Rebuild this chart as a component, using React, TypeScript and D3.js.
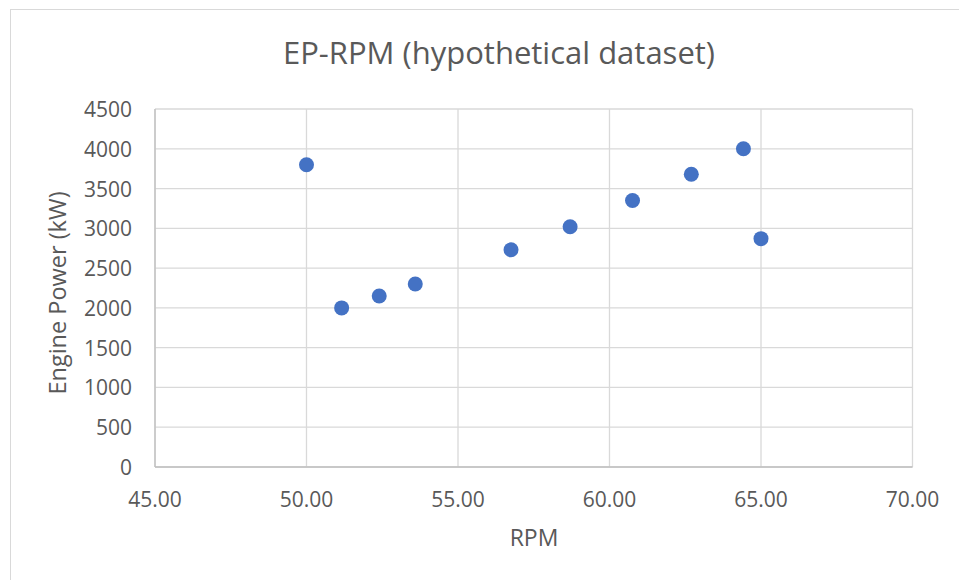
import React from "react";
import * as d3 from "d3";

const rpm = [50.0, 51.16, 52.4, 53.59, 56.75, 58.7, 60.76, 62.7, 64.42, 65.0];
const power = [3800, 2000, 2150, 2300, 2730, 3020, 3350, 3680, 4000, 2870];
const xTicks = [45, 50, 55, 60, 65, 70];
const yTicks = [0, 500, 1000, 1500, 2000, 2500, 3000, 3500, 4000, 4500];

const W = 959;
const H = 580;
const FONT = "'Open Sans', 'Liberation Sans', sans-serif";

export default function App() {
  const left = 155, right = 912.5, top = 109, bottom = 467;
  const x = d3.scaleLinear().domain([45, 70]).range([left, right]);
  const y = d3.scaleLinear().domain([0, 4500]).range([bottom, top]);
  const textColor = "#595959";
  return (
    <svg width={W} height={H} style={{ position: "absolute", left: 0, top: 0, background: "#fff" }}>
      <rect x={0} y={0} width={W} height={H} fill="#fff" />
      <rect x={10.5} y={9.5} width={W + 20} height={H + 20} fill="none" stroke="#d9d9d9" strokeWidth={1} />
      <text x={499} y={64} textAnchor="middle" fontFamily={FONT} fontSize={31} fill={textColor}>
        EP-RPM (hypothetical dataset)
      </text>
      {yTicks.map((t) => (
        <line key={"gy" + t} x1={left} x2={right} y1={y(t)} y2={y(t)} stroke="#d9d9d9" strokeWidth={1.3} />
      ))}
      {xTicks.map((t) => (
        <line key={"gx" + t} x1={x(t)} x2={x(t)} y1={top} y2={bottom} stroke="#d9d9d9" strokeWidth={1.3} />
      ))}
      <line x1={left} x2={left} y1={top} y2={bottom} stroke="#bfbfbf" strokeWidth={1.3} />
      <line x1={left} x2={right} y1={bottom} y2={bottom} stroke="#bfbfbf" strokeWidth={1.3} />
      {yTicks.map((t) => (
        <text key={"ly" + t} x={132} y={y(t)} textAnchor="end" dominantBaseline="central" fontFamily={FONT} fontSize={21} fill={textColor}>
          {t}
        </text>
      ))}
      {xTicks.map((t) => (
        <text key={"lx" + t} x={x(t)} y={499} textAnchor="middle" dominantBaseline="central" fontFamily={FONT} fontSize={21} fill={textColor}>
          {d3.format(".2f")(t)}
        </text>
      ))}
      <text x={534} y={546} textAnchor="middle" fontFamily={FONT} fontSize={23} fill={textColor}>
        RPM
      </text>
      <text
        transform={`translate(66,293) rotate(-90)`}
        textAnchor="middle"
        fontFamily={FONT}
        fontSize={23.5}
        fill={textColor}
      >
        Engine Power (kW)
      </text>
      {rpm.map((r, i) => (
        <circle key={"p" + i} cx={x(r)} cy={y(power[i])} r={7.5} fill="#4472C4" />
      ))}
    </svg>
  );
}
